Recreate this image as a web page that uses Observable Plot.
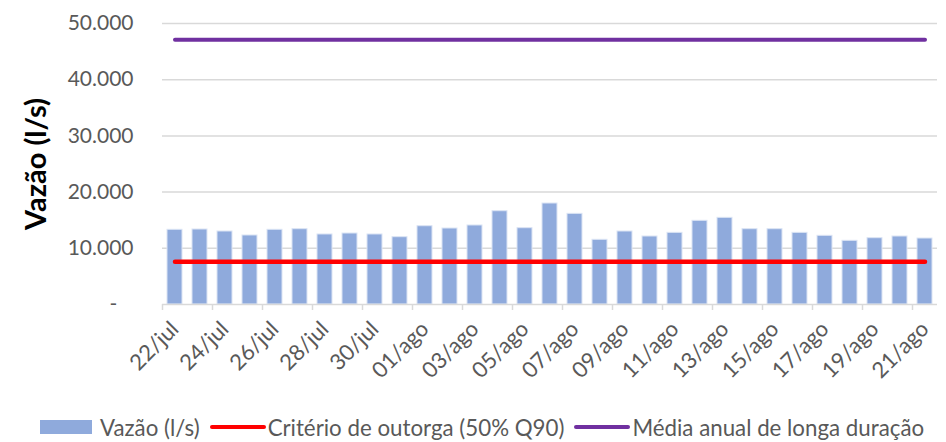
<!DOCTYPE html>
<html>
<head>
<meta charset="utf-8">
<script src="https://cdn.jsdelivr.net/npm/d3@7"></script>
<script src="https://cdn.jsdelivr.net/npm/@observablehq/plot@0.6"></script>
<style>
  html, body { margin: 0; padding: 0; background: #fff; }
  body { width: 946px; height: 442px; overflow: hidden; font-family: Lato, "Open Sans", sans-serif; }
  #chart svg { display: block; }
  g[aria-label="y-axis label"] text { font-size: 29px; font-weight: bold; fill: #000; }
  #legend { display: flex; align-items: center; height: 30px; margin-top: 14px; padding-left: 40px; font-size: 22.3px; color: #595959; white-space: nowrap; }
  #legend .item { display: flex; align-items: center; }
  #legend .sw-bar { width: 52px; height: 14px; background: #8faadc; margin-right: 8px; }
  #legend .sw-line { width: 56px; height: 4px; border-radius: 2px; margin-left: 10px; margin-right: 2px; }
</style>
</head>
<body>
<div id="chart"></div>
<div id="legend">
  <div class="item"><span class="sw-bar"></span><span>Vazão (l/s)</span></div>
  <div class="item"><span class="sw-line" style="background:#ff0000"></span><span>Critério de outorga (50% Q90)</span></div>
  <div class="item"><span class="sw-line" style="background:#7030a0"></span><span>Média anual de longa duração</span></div>
</div>
<script>
const dates = ["22/jul","23/jul","24/jul","25/jul","26/jul","27/jul","28/jul","29/jul","30/jul","31/jul",
  "01/ago","02/ago","03/ago","04/ago","05/ago","06/ago","07/ago","08/ago","09/ago","10/ago",
  "11/ago","12/ago","13/ago","14/ago","15/ago","16/ago","17/ago","18/ago","19/ago","20/ago","21/ago"];
const vazao = [13290,13345,12990,12280,13290,13400,12460,12630,12460,11980,
  13930,13520,14060,16600,13580,17970,16130,11510,12990,12100,
  12750,14890,15420,13400,13400,12750,12220,11330,11800,12100,11740];
const criterio = [7600, 7600];
const mediaAnual = [47100, 47100];
const yTicks = [0, 10000, 20000, 30000, 40000, 50000];

const n = dates.length;
const bars = dates.map((d, i) => ({i, date: d, v: vazao[i]}));
const lineX = [0.5, n - 0.5];
const crit = lineX.map((x, k) => ({x, v: criterio[k]}));
const med = lineX.map((x, k) => ({x, v: mediaAnual[k]}));
const tickBounds = d3.range(0, n, 2);
const labelPos = d3.range(0, n, 2).map(i => i + 0.5);
const fmt = d => d === 0 ? "-\u00a0\u00a0\u00a0" : d3.format(",")(d).replace(/,/g, ".");

const chart = Plot.plot({
  width: 946,
  height: 398,
  marginTop: 23,
  marginBottom: 94,
  marginLeft: 162,
  marginRight: 9,
  style: {fontFamily: "Lato, 'Open Sans', sans-serif", fontSize: "21px", color: "#595959", background: "#fff"},
  x: {type: "linear", domain: [0, n]},
  y: {domain: [0, 50000]},
  marks: [
    Plot.gridY(yTicks.filter(d => d > 0), {stroke: "#d9d9d9", strokeOpacity: 1, strokeWidth: 1.5}),
    Plot.axisY({ticks: yTicks, tickFormat: fmt, tickSize: 0, tickPadding: 29, label: "Vazão (l/s)", labelAnchor: "center", labelArrow: "none", labelOffset: 137, fill: "#595959"}),
    Plot.rectY(bars, {x1: "i", x2: d => d.i + 1, y: "v", fill: "#8faadc", stroke: "#dbe4f4", strokeWidth: 1, insetLeft: 5, insetRight: 5}),
    Plot.ruleY([0], {stroke: "#d9d9d9", strokeWidth: 1.5}),
    Plot.axisX({ticks: tickBounds, tickSize: 6, tickFormat: () => "", stroke: "#d9d9d9", strokeWidth: 1.5}),
    Plot.axisX({ticks: labelPos, tickSize: 0, tickPadding: 21, tickRotate: -45, tickFormat: d => dates[Math.floor(d)], fontSize: 22, fill: "#595959", label: null}),
    Plot.line(crit, {x: "x", y: "v", stroke: "#ff0000", strokeWidth: 4.5}),
    Plot.line(med, {x: "x", y: "v", stroke: "#7030a0", strokeWidth: 4})
  ]
});
document.getElementById("chart").appendChild(chart);
</script>
</body>
</html>
